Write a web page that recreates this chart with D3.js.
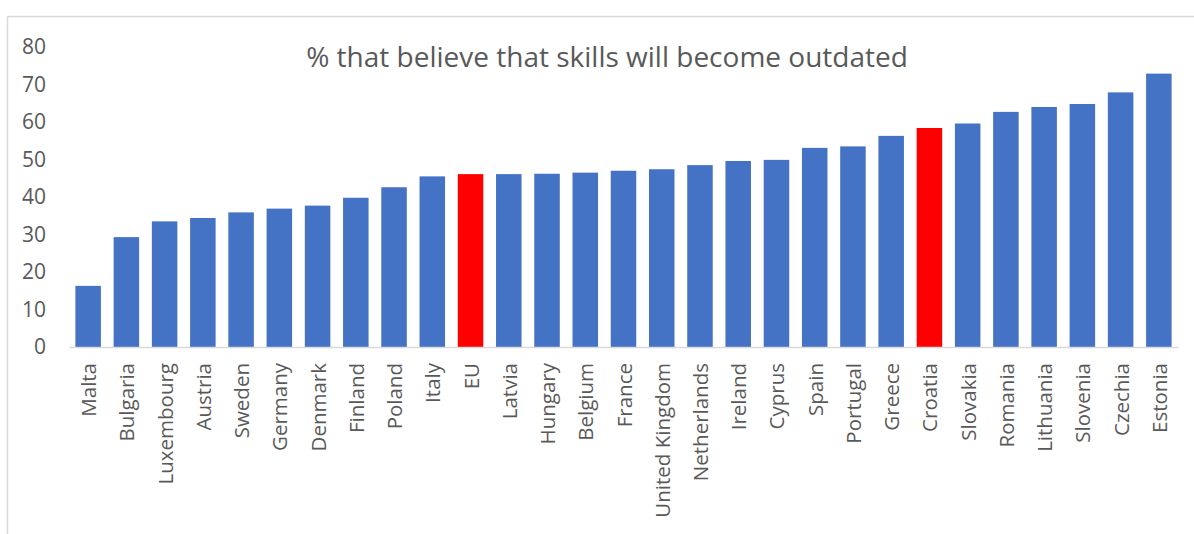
<!DOCTYPE html>
<html>
<head>
<meta charset="utf-8">
<script src="https://cdn.jsdelivr.net/npm/d3@7"></script>
<style>
  html, body { margin: 0; padding: 0; background: #fff; }
  svg { display: block; }
  text { font-family: "Open Sans", "Noto Sans", sans-serif; fill: #595959; }
</style>
</head>
<body>
<svg id="chart" width="1194" height="534"></svg>
<script>
// Share of people who believe their skills will become outdated, by country
const countries = ["Malta", "Bulgaria", "Luxembourg", "Austria", "Sweden", "Germany", "Denmark",
  "Finland", "Poland", "Italy", "EU", "Latvia", "Hungary", "Belgium", "France", "United Kingdom",
  "Netherlands", "Ireland", "Cyprus", "Spain", "Portugal", "Greece", "Croatia", "Slovakia",
  "Romania", "Lithuania", "Slovenia", "Czechia", "Estonia"];
const shares = [16.3, 29.3, 33.5, 34.4, 35.9, 36.9, 37.7,
  39.8, 42.6, 45.5, 46.1, 46.1, 46.2, 46.5, 47.0, 47.4,
  48.5, 49.6, 49.9, 53.1, 53.5, 56.3, 58.4, 59.6,
  62.7, 64.0, 64.8, 67.9, 72.9];
const highlighted = ["EU", "Croatia"];
const yTicks = [0, 10, 20, 30, 40, 50, 60, 70, 80];
const title = "% that believe that skills will become outdated";

const svg = d3.select("#chart");
const plot = { left: 69, right: 1178, top: 47, bottom: 347 };

const x = d3.scaleBand()
  .domain(countries)
  .range([plot.left, plot.right])
  .paddingInner(0.333)
  .paddingOuter(0.167);

const y = d3.scaleLinear()
  .domain([0, 80])
  .range([plot.bottom, plot.top]);

// Chart frame (only the top and left edges fall inside the canvas)
svg.append("line")
  .attr("x1", 7.5).attr("x2", 1194).attr("y1", 16.5).attr("y2", 16.5)
  .attr("stroke", "#d9d9d9").attr("stroke-width", 1.5);
svg.append("line")
  .attr("x1", 7.5).attr("x2", 7.5).attr("y1", 16.5).attr("y2", 534)
  .attr("stroke", "#d9d9d9").attr("stroke-width", 1.5);

// Title
svg.append("text")
  .attr("x", 607).attr("y", 66.5)
  .attr("text-anchor", "middle")
  .style("font-size", "28px")
  .text(title);

// Bars
const data = countries.map((c, i) => ({ country: c, value: shares[i] }));
svg.append("g").selectAll("rect")
  .data(data)
  .join("rect")
  .attr("x", d => x(d.country))
  .attr("width", x.bandwidth())
  .attr("y", d => y(d.value))
  .attr("height", d => y(0) - y(d.value))
  .attr("fill", d => highlighted.includes(d.country) ? "#ff0000" : "#4472c4");

// Category axis
const xAxis = svg.append("g")
  .attr("transform", `translate(0,${plot.bottom})`)
  .call(d3.axisBottom(x).tickSize(0).tickSizeOuter(0));
xAxis.select(".domain").attr("stroke", "#d9d9d9").attr("stroke-width", 1.5);
xAxis.selectAll(".tick text")
  .attr("transform", "translate(8,16) rotate(-90)")
  .attr("x", 0).attr("y", 0).attr("dy", null)
  .attr("text-anchor", "end")
  .style("font-size", "20.5px")
  .style("font-family", "\"Open Sans\", sans-serif")
  .attr("fill", "#595959");

// Value axis (labels only)
const yAxis = svg.append("g")
  .attr("transform", `translate(${46},0)`)
  .call(d3.axisLeft(y).tickValues(yTicks).tickSize(0).tickPadding(0));
yAxis.select(".domain").remove();
yAxis.selectAll(".tick text")
  .style("font-size", "21px")
  .style("font-family", "\"Open Sans\", sans-serif")
  .attr("fill", "#595959");
</script>
</body>
</html>
